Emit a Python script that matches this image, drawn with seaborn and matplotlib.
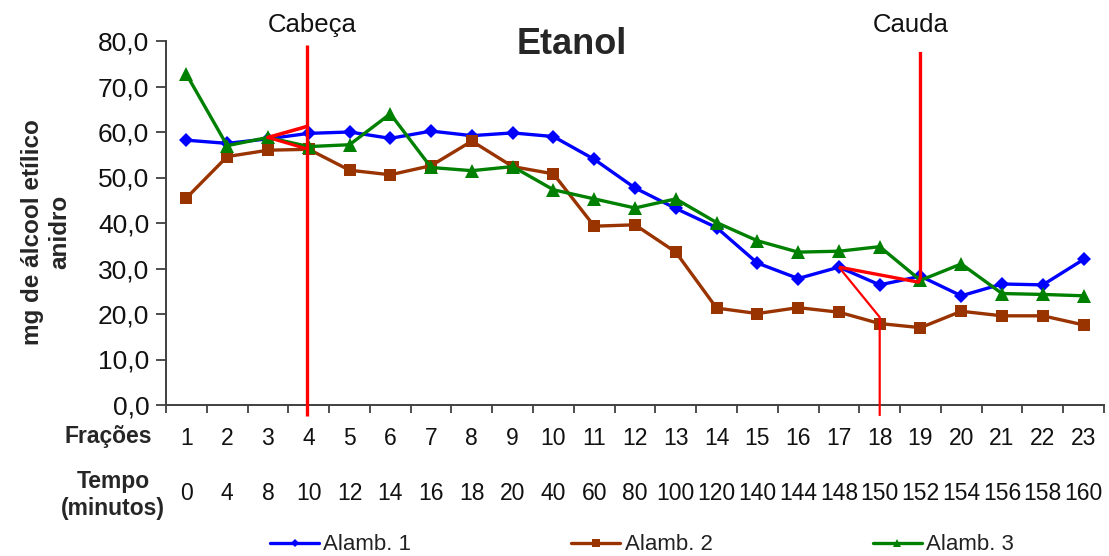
import matplotlib
matplotlib.use("Agg")
import matplotlib.pyplot as plt
import matplotlib.transforms as mtransforms
from matplotlib import font_manager
import numpy as np
import pandas as pd
import seaborn as sns

# Fractions collected from each still and the elapsed time of each fraction
fracoes = [str(i) for i in range(1, 24)]
tempo_min = ["0", "4", "8", "10", "12", "14", "16", "18", "20", "40", "60", "80",
             "100", "120", "140", "144", "148", "150", "152", "154", "156", "158", "160"]

# Ethanol (mg of anhydrous ethyl alcohol) per fraction
alamb_1 = [58.2, 57.5, 58.5, 59.7, 60.0, 58.6, 60.2, 59.2, 59.8, 59.0, 54.0, 47.7,
           43.2, 39.0, 31.2, 27.8, 30.3, 26.4, 28.3, 24.0, 26.6, 26.4, 32.0]
alamb_2 = [45.5, 54.6, 56.0, 56.2, 51.6, 50.6, 52.6, 58.0, 52.4, 50.8, 39.3, 39.6,
           33.6, 21.3, 20.1, 21.4, 20.4, 17.9, 17.0, 20.6, 19.6, 19.6, 17.6]
alamb_3 = [72.7, 57.0, 58.8, 56.8, 57.2, 64.0, 52.2, 51.5, 52.4, 47.3, 45.3, 43.3,
           45.3, 40.1, 36.1, 33.6, 33.8, 34.8, 27.4, 31.0, 24.5, 24.3, 24.0]
series_names = ["Alamb. 1", "Alamb. 2", "Alamb. 3"]

y_ticks = [0, 10, 20, 30, 40, 50, 60, 70, 80]
y_tick_labels = ["0,0", "10,0", "20,0", "30,0", "40,0", "50,0", "60,0", "70,0", "80,0"]

# Cut points: head ends at fraction 4, tail starts at fraction 19
cabeca_idx = 3
cauda_idx = 18


def pick_family(names):
    for n in names:
        try:
            font_manager.findfont(font_manager.FontProperties(family=n),
                                  fallback_to_default=False)
            return n
        except ValueError:
            continue
    return "DejaVu Sans"


sns.set_theme(style="white")
base_font = pick_family(["Liberation Sans", "Arial"])
plt.rcParams["font.family"] = [base_font, "DejaVu Sans"]

df = pd.DataFrame({
    "idx": np.tile(np.arange(len(fracoes)), 3),
    "valor": alamb_1 + alamb_2 + alamb_3,
    "serie": np.repeat(series_names, len(fracoes)),
})

W, H = 1109, 556
fig = plt.figure(figsize=(W / 100, H / 100), dpi=100)
fig.patch.set_facecolor("white")
ax = fig.add_axes([166 / W, 1 - 405 / H, (1104 - 166) / W, (405 - 41) / H])

palette = {"Alamb. 1": "#0000FF", "Alamb. 2": "#993300", "Alamb. 3": "#008000"}
markers = {"Alamb. 1": "D", "Alamb. 2": "s", "Alamb. 3": "^"}
sizes = {"Alamb. 1": 6.8, "Alamb. 2": 9, "Alamb. 3": 10.5}

for name in series_names:
    sub = df[df["serie"] == name]
    sns.lineplot(data=sub, x="idx", y="valor", color=palette[name],
                 marker=markers[name], markersize=sizes[name], markeredgewidth=0,
                 linewidth=2.4, label=name, ax=ax, zorder=3)

ax.set_xlim(-0.5, len(fracoes) - 0.5)
ax.set_ylim(0, 80)
ax.set_xlabel("")
ax.set_ylabel("")

# Category labels centred, tick marks between categories
ax.set_xticks(np.arange(len(fracoes)))
ax.set_xticklabels(fracoes, fontsize=16.5)
ax.set_xticks(np.arange(-0.5, len(fracoes), 1), minor=True)
ax.tick_params(axis="x", which="major", length=0, pad=16, colors="#111111")
ax.tick_params(axis="x", which="minor", bottom=True, length=6, width=1.3,
               direction="out", color="#404040")
ax.set_yticks(y_ticks)
ax.set_yticklabels(y_tick_labels, fontsize=19)
ax.tick_params(axis="y", left=True, length=7, width=1.3, direction="out",
               color="#404040", pad=5, labelcolor="#111111")

sns.despine(ax=ax)
for side in ("left", "bottom"):
    ax.spines[side].set_color("#404040")
    ax.spines[side].set_linewidth(1.4)
ax.set_facecolor("white")
ax.grid(False)

# Second row of category labels: elapsed time
trans = mtransforms.blended_transform_factory(ax.transData, ax.transAxes)
for i, t in enumerate(tempo_min):
    ax.text(i, -(493 - 405) / (405 - 41), t, transform=trans, ha="center",
            va="center", fontsize=16.5, color="#111111")

fig.text(152 / W, 1 - 437 / H, "Frações", ha="right", va="center",
         fontsize=16.5, fontweight="bold")
fig.text(113 / W, 1 - 495 / H, "Tempo\n(minutos)", ha="center", va="center",
         fontsize=16.5, fontweight="bold", linespacing=1.25)
fig.text(46 / W, 1 - 232 / H, "mg de álcool etílico\nanidro", rotation=90,
         ha="center", va="center", multialignment="center", fontsize=17.5,
         fontweight="bold", linespacing=1.25)
fig.text(572 / W, 1 - 45 / H, "Etanol", ha="center", va="center",
         fontsize=26, fontweight="bold")

# Head / tail cut markers
red = "#FF0000"
ax.text(cabeca_idx + 0.08, 83.5, "Cabeça", ha="center", va="center",
        fontsize=18.5, color="#111111", clip_on=False)
ax.text(cauda_idx - 0.25, 83.5, "Cauda", ha="center", va="center",
        fontsize=18.5, color="#111111", clip_on=False)
ax.plot([cabeca_idx - 0.05, cabeca_idx - 0.05], [79.2, -2.4], color=red,
        lw=2.4, clip_on=False, zorder=5, solid_capstyle="butt")
ax.plot([cabeca_idx - 1, cabeca_idx - 0.05], [alamb_3[2], 61.2], color=red,
        lw=2.6, zorder=5, solid_capstyle="round")
ax.plot([cabeca_idx - 1, cabeca_idx - 0.05], [alamb_3[2], 56.3], color=red,
        lw=2.2, zorder=5, solid_capstyle="round")
ax.plot([cauda_idx - 2, cauda_idx - 0.05, cauda_idx, cauda_idx],
        [alamb_1[16], 27.0, 28.0, 77.6], color=red, lw=2.4, zorder=5,
        solid_joinstyle="round", solid_capstyle="butt")
ax.plot([cauda_idx - 2, cauda_idx - 1, cauda_idx - 1],
        [alamb_1[16], 19.3, -2.4], color=red, lw=1.6, zorder=5,
        clip_on=False, solid_capstyle="butt")

# Legend below the time row
handles, labels = ax.get_legend_handles_labels()
if ax.get_legend() is not None:
    ax.get_legend().remove()
fig.legend(handles, labels, loc="center", bbox_to_anchor=(642 / W, 1 - 545 / H),
           ncol=3, frameon=False, fontsize=16, handlelength=2.2,
           handletextpad=0.2, columnspacing=7.2, markerscale=0.6,
           labelcolor="#222222")

fig.savefig("out.png", dpi=100, facecolor="white")
